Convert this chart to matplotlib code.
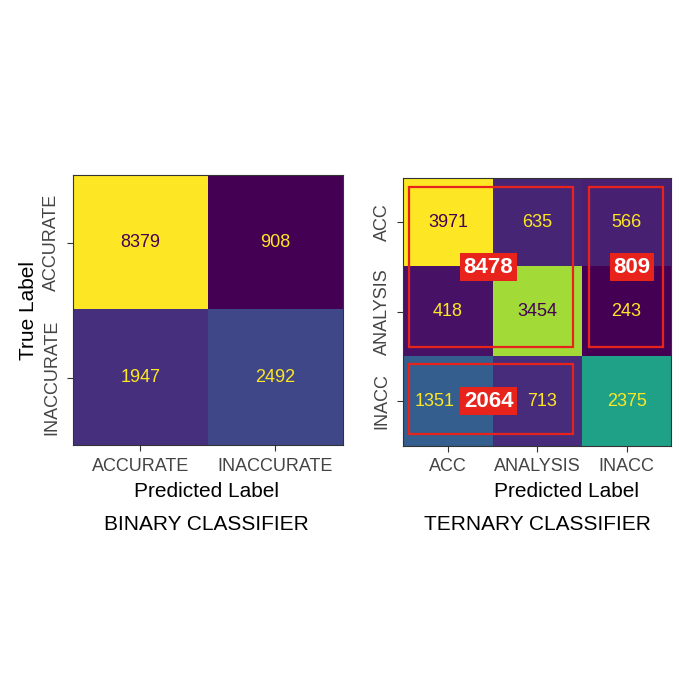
import numpy as np
import matplotlib
matplotlib.use("Agg")
import matplotlib.pyplot as plt
from matplotlib.patches import Rectangle

plt.rcParams["font.family"] = ["Liberation Sans", "DejaVu Sans"]

# === Datos ===
binary_labels = ["ACCURATE", "INACCURATE"]
binary_cm = [[8379, 908],
             [1947, 2492]]

ternary_labels = ["ACC", "ANALYSIS", "INACC"]
ternary_cm = [[3971, 635, 566],
              [418, 3454, 243],
              [1351, 713, 2375]]

# grupos marcados en rojo: (filas, columnas)
ternary_groups = [((0, 1), (0, 1)),
                  ((0, 1), (2, 2)),
                  ((2, 2), (0, 1))]

RED = "#e8231b"
cmap = plt.get_cmap("viridis")


def draw_cm(ax, cm, labels, nudge=None):
    cm = np.array(cm)
    nudge = nudge or {}
    ax.imshow(cm, cmap=cmap, aspect="auto")
    lo, hi = cm.min(), cm.max()
    for i in range(cm.shape[0]):
        for j in range(cm.shape[1]):
            frac = (cm[i, j] - lo) / (hi - lo)
            color = cmap(0.0) if frac > 0.7 else cmap(1.0)
            dx = nudge.get((i, j), 0.0)
            ax.text(j + dx, i, str(cm[i, j]), ha="center", va="center",
                    fontsize=13, color=color)
    ticks = np.arange(len(labels))
    ax.set_xticks(ticks)
    ax.set_yticks(ticks)
    ax.set_xticklabels(labels, fontsize=13, color="#444444")
    ax.set_yticklabels(labels, fontsize=13, color="#444444",
                       rotation=90, va="center")
    ax.tick_params(length=4, color="#333333", pad=5)
    for s in ax.spines.values():
        s.set_color("#333333")


fig = plt.figure(figsize=(7, 7), dpi=100)

# === Binario ===
ax1 = fig.add_axes([0.104, 0.364, 0.386, 0.386])
draw_cm(ax1, binary_cm, binary_labels)
ax1.set_ylabel("True Label", fontsize=15)
ax1.set_xlabel("Predicted Label", fontsize=15)
ax1.xaxis.set_label_coords(0.495, -0.137)
ax1.text(0.495, -0.295, "BINARY CLASSIFIER", transform=ax1.transAxes,
         ha="center", va="center", fontsize=15)

# === Ternario ===
ax2 = fig.add_axes([0.576, 0.363, 0.383, 0.383])
draw_cm(ax2, ternary_cm, ternary_labels, nudge={(2, 0): -0.15, (2, 1): 0.05})
ax2.set_xlabel("Predicted Label", fontsize=15)
ax2.xaxis.set_label_coords(0.61, -0.135)
ax2.text(0.5, -0.295, "TERNARY CLASSIFIER", transform=ax2.transAxes,
         ha="center", va="center", fontsize=15)

tcm = np.array(ternary_cm)
label_pos = [(0.455, 0.5), (2.06, 0.5), (0.455, 2.0)]
for ((r0, r1), (c0, c1)), (lx, ly) in zip(ternary_groups, label_pos):
    total = tcm[r0:r1 + 1, c0:c1 + 1].sum()
    x0 = c0 - 0.43 if c0 == 0 else c0 - 0.425
    y0 = r0 - 0.40 if r0 == 0 else r0 - 0.42
    w = (c1 - c0) + 0.83
    h = (r1 - r0) + 0.79
    ax2.add_patch(Rectangle((x0, y0), w, h, fill=False, edgecolor=RED, lw=1.6))
    ax2.text(lx, ly, str(total), ha="center", va="center", fontsize=16,
             fontweight="bold", color="white",
             bbox=dict(facecolor=RED, edgecolor="none", pad=2.5))

plt.savefig("out.png", dpi=100)
plt.close()
